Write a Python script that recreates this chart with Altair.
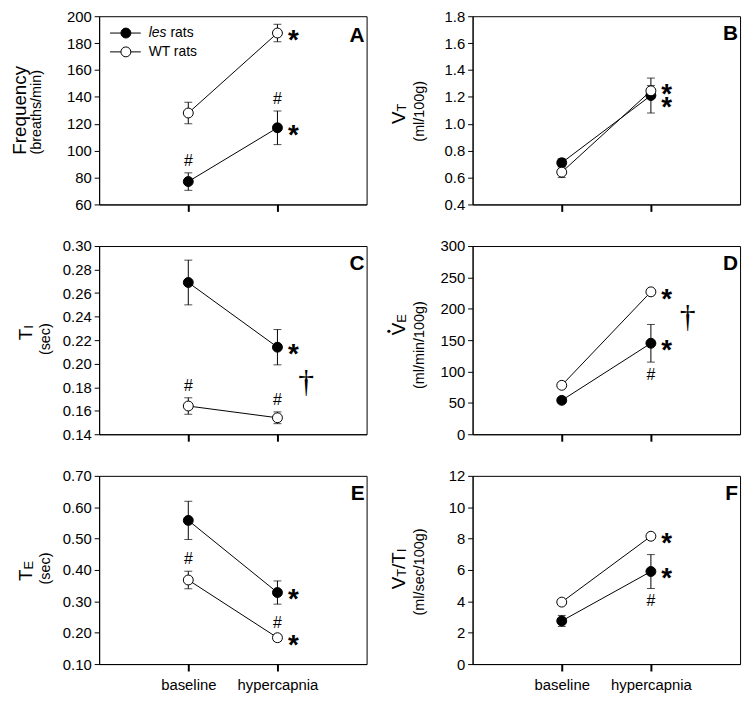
import altair as alt
import pandas as pd

# ---------------- data ----------------
conditions = ["baseline", "hypercapnia"]
groups = ["les", "WT"]

freq_les = [77, 117]
freq_les_sem = [6.5, 12.5]
freq_wt = [128, 187.5]
freq_wt_sem = [8, 6.5]

vt_les = [0.71, 1.21]
vt_les_sem = [0.03, 0.13]
vt_wt = [0.64, 1.245]
vt_wt_sem = [0.04, 0.04]

ti_les = [0.269, 0.214]
ti_les_sem = [0.019, 0.015]
ti_wt = [0.164, 0.154]
ti_wt_sem = [0.007, 0.005]

ve_les = [54, 145]
ve_les_sem = [5, 30]
ve_wt = [78, 227]
ve_wt_sem = [4, 5]

te_les = [0.558, 0.328]
te_les_sem = [0.061, 0.037]
te_wt = [0.368, 0.184]
te_wt_sem = [0.028, 0.01]

vtti_les = [2.75, 5.9]
vtti_les_sem = [0.35, 1.08]
vtti_wt = [3.95, 8.15]
vtti_wt_sem = [0.15, 0.2]

freq_ticks = [60, 80, 100, 120, 140, 160, 180, 200]
vt_ticks = [0.4, 0.6, 0.8, 1.0, 1.2, 1.4, 1.6, 1.8]
ti_ticks = [0.14, 0.16, 0.18, 0.20, 0.22, 0.24, 0.26, 0.28, 0.30]
ve_ticks = [0, 50, 100, 150, 200, 250, 300]
te_ticks = [0.10, 0.20, 0.30, 0.40, 0.50, 0.60, 0.70]
vtti_ticks = [0, 2, 4, 6, 8, 10, 12]

# ---------------- style ----------------
FONT = "Liberation Sans, Arial, Helvetica, sans-serif"
W, H = 270, 190
STAR_DX, STAR_DY = 16, 16
HASH_UP_DY, HASH_DN_DY = -12, 13

ARIAL = {"V": 0.667, "T": 0.611, "I": 0.278, "E": 0.667, "/": 0.278}
one = pd.DataFrame({"k": [0]})


def panel_df(les, les_sem, wt, wt_sem):
    rows = []
    for g, m, s in (("les", les, les_sem), ("WT", wt, wt_sem)):
        for i, c in enumerate(conditions):
            rows.append(dict(group=g, cond=c, xi=i + 1, mean=m[i],
                             lo=m[i] - s[i], hi=m[i] + s[i]))
    return pd.DataFrame(rows)


def text_layer(txt, x, y, size, **kw):
    props = dict(text=txt, fontSize=size, font=FONT, color="black")
    props.update(kw)
    return alt.Chart(one).mark_text(**props).encode(x=alt.value(x), y=alt.value(y))


def rot_title(pieces, base_x, center_y):
    widths = [sum(ARIAL[c] for c in t) * s for t, s, sub in pieces]
    y = center_y + sum(widths) / 2
    out = []
    for (t, s, sub), w in zip(pieces, widths):
        out.append(text_layer(t, base_x + sub, y, s, angle=270, align="left",
                              baseline="alphabetic"))
        y -= w
    return out


def make_panel(letter, les, les_sem, wt, wt_sem, dom, ticks, fmt, bottom,
               anns, title_layers, dagger_dx=None, extra=None):
    df = panel_df(les, les_sem, wt, wt_sem)
    xenc = alt.X("xi:Q", scale=alt.Scale(domain=[0, 3], nice=False, zero=False),
                 axis=alt.Axis(values=[1, 2], title=None, grid=False, labels=bottom,
                               labelExpr=f"datum.value == 1 ? '{conditions[0]}' : '{conditions[1]}'",
                               tickSize=7, tickWidth=2, labelPadding=7,
                               labelFontSize=15, labelFont=FONT))
    yaxis = alt.Axis(values=ticks, format=fmt, title=None, grid=False, tickSize=5,
                     tickWidth=1, labelPadding=3, labelFontSize=15, labelFont=FONT)
    yscale = alt.Scale(domain=dom, nice=False, zero=False)
    base = alt.Chart(df)
    lines = base.mark_line(color="black", strokeWidth=1).encode(
        x=xenc, y=alt.Y("mean:Q", scale=yscale, axis=yaxis), detail="group:N")
    err = base.mark_rule(color="black", strokeWidth=1).encode(
        x=xenc, y=alt.Y("lo:Q", scale=yscale, axis=yaxis), y2="hi:Q")
    cap_hi = base.mark_tick(orient="horizontal", size=8, thickness=1, color="black").encode(
        x=xenc, y=alt.Y("hi:Q", scale=yscale, axis=yaxis))
    cap_lo = base.mark_tick(orient="horizontal", size=8, thickness=1, color="black").encode(
        x=xenc, y=alt.Y("lo:Q", scale=yscale, axis=yaxis))
    pts = base.mark_point(filled=True, size=100, stroke="black", strokeWidth=1, opacity=1).encode(
        x=xenc, y=alt.Y("mean:Q", scale=yscale, axis=yaxis),
        fill=alt.Fill("group:N", scale=alt.Scale(domain=groups, range=["black", "white"]), legend=None))
    layers = [lines, err, cap_hi, cap_lo, pts]

    for kind, g, xi, nudge in anns:
        sub = df[(df.group == g) & (df.xi == xi)]
        if kind == "star":
            layers.append(alt.Chart(sub).mark_text(text="*", fontSize=28, fontWeight="bold", font=FONT,
                                                   color="black", align="center", baseline="alphabetic",
                                                   dx=STAR_DX, dy=STAR_DY + nudge).encode(
                x=xenc, y=alt.Y("mean:Q", scale=yscale, axis=yaxis)))
        elif kind == "hash_up":
            layers.append(alt.Chart(sub).mark_text(text="#", fontSize=16, font=FONT, color="black",
                                                   align="center", baseline="middle",
                                                   dy=HASH_UP_DY + nudge).encode(
                x=xenc, y=alt.Y("hi:Q", scale=yscale, axis=yaxis)))
        elif kind == "hash_dn":
            layers.append(alt.Chart(sub).mark_text(text="#", fontSize=16, font=FONT, color="black",
                                                   align="center", baseline="middle",
                                                   dy=HASH_DN_DY + nudge).encode(
                x=xenc, y=alt.Y("lo:Q", scale=yscale, axis=yaxis)))

    if dagger_dx is not None:
        hyp = df[df.xi == 2]
        dg = pd.DataFrame({"xi": [2], "mean": [hyp["mean"].mean()]})
        layers.append(alt.Chart(dg).mark_text(text="\u2020", fontSize=32,
                                              font="Liberation Serif, DejaVu Serif, serif",
                                              color="black", align="center", baseline="middle",
                                              dx=dagger_dx).encode(
            x=xenc, y=alt.Y("mean:Q", scale=yscale, axis=yaxis)))

    layers += title_layers
    layers.append(text_layer(letter, W - 2, 24 if letter != "A" else 26, 21, fontWeight="bold",
                             align="right", baseline="alphabetic"))
    if extra:
        layers += extra
    return alt.layer(*layers).properties(width=W, height=H)


# legend for panel A
legend = []
for row_y, fill in ((17, "black"), (36, "white")):
    legend.append(alt.Chart(one).mark_rule(color="black", strokeWidth=1).encode(
        x=alt.value(11), x2=alt.value(42), y=alt.value(row_y)))
    legend.append(alt.Chart(one).mark_point(filled=True, size=100, fill=fill, stroke="black",
                                            strokeWidth=1, opacity=1).encode(
        x=alt.value(27), y=alt.value(row_y)))
legend.append(text_layer("les", 50, 17, 14, fontStyle="italic", align="left", baseline="middle"))
legend.append(text_layer("rats", 72, 17, 14, align="left", baseline="middle"))
legend.append(text_layer("WT rats", 50, 36, 14, align="left", baseline="middle"))

SUB = 14.5

pA = make_panel(
    "A", freq_les, freq_les_sem, freq_wt, freq_wt_sem, [60, 200], freq_ticks, "d", False,
    [("star", "les", 2, 0), ("star", "WT", 2, 0), ("hash_up", "les", 1, 0), ("hash_up", "les", 2, 0)],
    [text_layer("Frequency", -74, 95, 19, angle=270, align="center", baseline="alphabetic"),
     text_layer("(breaths/min)", -58.7, 97, SUB, angle=270, align="center", baseline="alphabetic")],
    extra=legend)

pB = make_panel(
    "B", vt_les, vt_les_sem, vt_wt, vt_wt_sem, [0.4, 1.8], vt_ticks, ".1f", False,
    [("star", "WT", 2, -4), ("star", "les", 2, 5)],
    rot_title([("V", 19, 0), ("T", 13, 1)], -68, 98.5)
    + [text_layer("(ml/100g)", -49.2, 96, SUB, angle=270, align="center", baseline="alphabetic")])

pC = make_panel(
    "C", ti_les, ti_les_sem, ti_wt, ti_wt_sem, [0.14, 0.30], ti_ticks, ".2f", False,
    [("star", "les", 2, 0), ("hash_up", "WT", 1, 0), ("hash_up", "WT", 2, 0)],
    rot_title([("T", 19, 0), ("I", 13, 1)], -68, 87.5)
    + [text_layer("(sec)", -49.2, 94, SUB, angle=270, align="center", baseline="alphabetic")],
    dagger_dx=29)

pD = make_panel(
    "D", ve_les, ve_les_sem, ve_wt, ve_wt_sem, [0, 300], ve_ticks, "d", False,
    [("star", "WT", 2, 0), ("star", "les", 2, 0), ("hash_dn", "les", 2, 0)],
    rot_title([("V", 19, 0), ("E", 13, 1)], -68, 79.5)
    + [alt.Chart(one).mark_circle(size=10, color="black", opacity=1).encode(
        x=alt.value(-84.5), y=alt.value(86)),
       text_layer("(ml/min/100g)", -49.2, 100, SUB, angle=270, align="center", baseline="alphabetic")],
    dagger_dx=37)

pE = make_panel(
    "E", te_les, te_les_sem, te_wt, te_wt_sem, [0.10, 0.70], te_ticks, ".2f", True,
    [("star", "les", 2, 0), ("star", "WT", 2, 0), ("hash_up", "WT", 1, 0), ("hash_up", "WT", 2, 0)],
    rot_title([("T", 19, 0), ("E", 13, 1)], -68, 96)
    + [text_layer("(sec)", -49.2, 93.5, SUB, angle=270, align="center", baseline="alphabetic")])

pF = make_panel(
    "F", vtti_les, vtti_les_sem, vtti_wt, vtti_wt_sem, [0, 12], vtti_ticks, "d", True,
    [("star", "WT", 2, 0), ("star", "les", 2, 0), ("hash_dn", "les", 2, 0)],
    rot_title([("V", 19, 0), ("T", 13, 1), ("/", 19, 0), ("T", 19, 0), ("I", 13, 1)], -68, 94)
    + [text_layer("(ml/sec/100g)", -49.2, 97, SUB, angle=270, align="center", baseline="alphabetic")])

chart = alt.concat(pA, pB, pC, pD, pE, pF, columns=2,
                   spacing={"row": 42, "column": 107}, bounds="flush").properties(
    padding={"left": 2, "top": -3, "right": 5, "bottom": 5},
    background="white",
).configure_view(stroke="black", strokeWidth=1).configure_axis(
    domainColor="black", tickColor="black", labelColor="black", domainWidth=1
)

chart.save("out.html", embed_options={"renderer": "svg", "actions": False})
